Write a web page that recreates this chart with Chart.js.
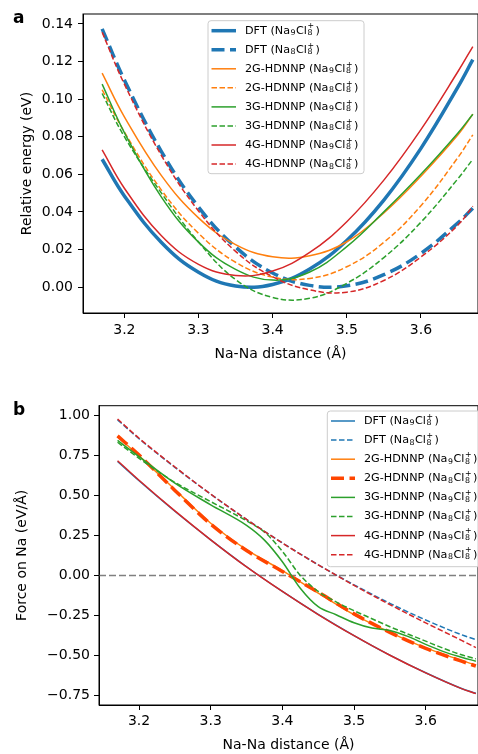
<!DOCTYPE html>
<html>
<head>
<meta charset="utf-8">
<script src="https://cdn.jsdelivr.net/npm/chart.js@4.4.1/dist/chart.umd.min.js"></script>
<style>
  html, body { margin: 0; padding: 0; background: #fff; }
  body { width: 478px; height: 754px; position: relative; overflow: hidden; font-family: 'DejaVu Sans', sans-serif; }
  canvas { position: absolute; left: 0; }
  #chartA { top: 0; }
  #chartB { top: 375px; }
  .panel { position: absolute; font-weight: bold; font-size: 17px; line-height: normal; }
</style>
</head>
<body>
<canvas id="chartA" width="478" height="375"></canvas>
<canvas id="chartB" width="478" height="379"></canvas>
<div class="panel" style="left:13px;top:7px">a</div>
<div class="panel" style="left:13px;top:399px">b</div>
<script>
// Na-Na distances (Å) where the curves were read
const dist = [3.17, 3.20, 3.25, 3.30, 3.35, 3.40, 3.45, 3.50, 3.55, 3.60, 3.65, 3.67];
const distFine = [3.17, 3.20, 3.25, 3.30, 3.35, 3.375, 3.40, 3.425, 3.45, 3.475, 3.50, 3.525, 3.55, 3.575, 3.60, 3.625, 3.65, 3.67];

// Panel a: relative energy (eV)
const eDftNa9 = [0.068, 0.0485, 0.0237, 0.0079, 0.0006, 0.0014, 0.0096, 0.0248, 0.0463, 0.0738, 0.1065, 0.121];
const eDftNa8 = [0.1374, 0.1102, 0.0721, 0.0426, 0.0213, 0.0075, 0.0009, 0.0007, 0.0066, 0.0179, 0.0342, 0.042];
const e2gNa9 = [0.1138, 0.0906, 0.0593, 0.0368, 0.0226, 0.0161, 0.0167, 0.0241, 0.0395, 0.059, 0.081, 0.092];
const e2gNa8 = [0.105, 0.0825, 0.0516, 0.0286, 0.0132, 0.0053, 0.0046, 0.0108, 0.0238, 0.0433, 0.069, 0.081];
const e3gNa9 = [0.108, 0.0822, 0.0479, 0.0239, 0.0094, 0.0037, 0.008, 0.0215, 0.040, 0.060, 0.082, 0.092];
const e3gNa8 = [0.103, 0.080, 0.050, 0.024, 0.004, -0.0055, -0.006, 0.002, 0.0157, 0.0345, 0.0577, 0.068];
const e4gNa9 = [0.073, 0.0526, 0.0273, 0.0121, 0.0062, 0.0085, 0.0184, 0.0348, 0.0569, 0.0838, 0.1147, 0.128];
const e4gNa8 = [0.1356, 0.108, 0.070, 0.0405, 0.019, 0.0055, -0.0015, -0.0027, 0.0035, 0.016, 0.033, 0.043];

// Panel b: force on Na (eV/Å)
const fDftNa9 = [0.71, 0.59, 0.40, 0.222, 0.054, -0.10, -0.243, -0.375, -0.497, -0.607, -0.705, -0.735];
const fDftNa8 = [0.97, 0.852, 0.674, 0.506, 0.349, 0.2025, 0.0665, -0.059, -0.174, -0.278, -0.37, -0.40];
const f2gNa9 = [0.865, 0.745, 0.535, 0.325, 0.16, 0.03, -0.11, -0.245, -0.355, -0.452, -0.53, -0.56];
const f2gNa8 = [0.87, 0.75, 0.53, 0.32, 0.155, 0.025, -0.105, -0.24, -0.355, -0.455, -0.535, -0.565];
const f3gNa9 = [0.842, 0.74, 0.575, 0.44, 0.312, 0.22, 0.085, -0.08, -0.195, -0.245, -0.295, -0.328, -0.343, -0.38, -0.43, -0.475, -0.51, -0.535];
const f3gNa8 = [0.83, 0.73, 0.58, 0.46, 0.34, 0.27, 0.15, 0.0, -0.10, -0.165, -0.22, -0.27, -0.32, -0.365, -0.41, -0.455, -0.495, -0.52];
const f4gNa9 = [0.715, 0.593, 0.402, 0.222, 0.053, -0.10, -0.244, -0.376, -0.498, -0.608, -0.706, -0.737];
const f4gNa8 = [0.975, 0.855, 0.676, 0.507, 0.349, 0.202, 0.066, -0.062, -0.182, -0.296, -0.405, -0.45];

// Labels and ticks
const seriesLabels = [
    'DFT (Na₉Cl₈⁺)', 'DFT (Na₈Cl₈⁺)',
    '2G-HDNNP (Na₉Cl₈⁺)', '2G-HDNNP (Na₈Cl₈⁺)',
    '3G-HDNNP (Na₉Cl₈⁺)', '3G-HDNNP (Na₈Cl₈⁺)',
    '4G-HDNNP (Na₉Cl₈⁺)', '4G-HDNNP (Na₈Cl₈⁺)'
];
const xTicks = [3.2, 3.3, 3.4, 3.5, 3.6];
const yTicksA = [0, 0.02, 0.04, 0.06, 0.08, 0.10, 0.12, 0.14];
const yTicksB = [-0.75, -0.5, -0.25, 0, 0.25, 0.5, 0.75, 1.0];

const BLUE = '#1f77b4', ORANGE = '#ff7f0e', GREEN = '#2ca02c', RED = '#d62728', ORANGERED = '#ff4500';
const FONT = "'DejaVu Sans'";
const THIN_DASH = [5.5, 2.5];
const THICK_DASH = [13, 5.5];
const SUBS = { '₈': '8', '₉': '9' };

Chart.defaults.color = '#000';
Chart.defaults.font.family = FONT;

function line(label, xs, ys, color, width, dash, idx, smooth) {
    const ds = {
        label,
        data: xs.map((x, i) => ({ x, y: ys[i] })),
        borderColor: color,
        borderWidth: width,
        borderDash: dash,
        pointRadius: 0,
        fill: false,
        order: 10 - idx // later series drawn on top, like matplotlib
    };
    if (smooth === 'monotone') ds.cubicInterpolationMode = 'monotone';
    else ds.tension = 0.4;
    return ds;
}

// Draw a label with mathtext-like sub/superscripts (Cl with 8 below and + above)
function drawRich(ctx, text, x, y, size) {
    const small = size * 0.7;
    let cx = x;
    let subStart = null, subW = 0;
    for (const ch of text) {
        if (SUBS[ch]) {
            ctx.font = small + 'px ' + FONT;
            ctx.fillText(SUBS[ch], cx + 0.5, y + size * 0.22);
            subStart = cx;
            subW = ctx.measureText(SUBS[ch]).width + 1;
            cx += subW;
        } else if (ch === '⁺') {
            ctx.font = small + 'px ' + FONT;
            const w = ctx.measureText('+').width + 1;
            const sx = subStart !== null ? subStart : cx;
            ctx.fillText('+', sx + 0.5, y - size * 0.38);
            cx = Math.max(cx, sx + w) + 1;
            subStart = null;
        } else {
            ctx.font = size + 'px ' + FONT;
            ctx.fillText(ch, cx, y);
            cx += ctx.measureText(ch).width;
            subStart = null;
        }
    }
}

// Legend drawn inside the axes, matplotlib style
const legendBox = {
    id: 'legendBox',
    afterDraw(chart, args, opts) {
        const ctx = chart.ctx;
        ctx.save();
        ctx.beginPath();
        ctx.roundRect(opts.x, opts.y, opts.w, opts.h, 3);
        ctx.fillStyle = 'rgba(255,255,255,0.8)';
        ctx.fill();
        ctx.strokeStyle = '#cccccc';
        ctx.lineWidth = 1;
        ctx.stroke();
        chart.data.datasets.forEach((ds, i) => {
            const y = opts.row0 + i * opts.step;
            ctx.beginPath();
            ctx.strokeStyle = ds.borderColor;
            ctx.lineWidth = ds.borderWidth;
            ctx.setLineDash(ds.borderDash || []);
            ctx.moveTo(opts.lineX0, y);
            ctx.lineTo(opts.lineX1, y);
            ctx.stroke();
            ctx.setLineDash([]);
            ctx.fillStyle = '#000';
            ctx.textBaseline = 'middle';
            drawRich(ctx, ds.label, opts.textX, y, 11.2);
        });
        ctx.restore();
    }
};

// Full box round the plot area
const frame = {
    id: 'frame',
    afterDraw(chart) {
        const { ctx, chartArea: a } = chart;
        ctx.save();
        ctx.strokeStyle = '#000';
        ctx.lineWidth = 1;
        ctx.strokeRect(a.left, a.top, a.right - a.left, a.bottom - a.top);
        ctx.restore();
    }
};

// Grey dashed zero line on the force panel
const zeroLine = {
    id: 'zeroLine',
    beforeDatasetsDraw(chart) {
        const { ctx, chartArea: a, scales } = chart;
        const y = scales.y.getPixelForValue(0);
        ctx.save();
        ctx.strokeStyle = '#808080';
        ctx.lineWidth = 1.5;
        ctx.setLineDash([7, 3]);
        ctx.beginPath();
        ctx.moveTo(a.left, y);
        ctx.lineTo(a.right, y);
        ctx.stroke();
        ctx.restore();
    }
};

function axisOptions(min, max, ticks, fmt, title, size, tickPad, titlePad) {
    return {
        type: 'linear',
        min, max,
        afterBuildTicks: s => { s.ticks = ticks.map(v => ({ value: v })); },
        afterFit: s => { if (s.isHorizontal()) s.height = size; else s.width = size; },
        grid: { display: true, drawOnChartArea: false, drawTicks: true, tickLength: 5, tickColor: '#000' },
        border: { display: true, color: '#000', width: 1 },
        ticks: { font: { size: 14 }, padding: tickPad, callback: fmt, autoSkip: false, maxRotation: 0 },
        title: { display: true, text: title, font: { size: 14 }, padding: titlePad }
    };
}

const fmtX = v => v.toFixed(1);
const fmtA = v => v.toFixed(2);
const fmtB = v => (v < 0 ? '\u2212' : '') + Math.abs(v).toFixed(2);

new Chart(document.getElementById('chartA'), {
    type: 'line',
    data: {
        datasets: [
            line(seriesLabels[0], dist, eDftNa9, BLUE, 3.5, [], 0),
            line(seriesLabels[1], dist, eDftNa8, BLUE, 3.5, THICK_DASH, 1),
            line(seriesLabels[2], dist, e2gNa9, ORANGE, 1.5, [], 2),
            line(seriesLabels[3], dist, e2gNa8, ORANGE, 1.5, THIN_DASH, 3),
            line(seriesLabels[4], dist, e3gNa9, GREEN, 1.5, [], 4),
            line(seriesLabels[5], dist, e3gNa8, GREEN, 1.5, THIN_DASH, 5),
            line(seriesLabels[6], dist, e4gNa9, RED, 1.5, [], 6),
            line(seriesLabels[7], dist, e4gNa8, RED, 1.5, THIN_DASH, 7)
        ]
    },
    options: {
        responsive: false,
        animation: false,
        devicePixelRatio: 1,
        layout: { padding: { top: 14, left: 0, right: 0, bottom: 0 } },
        scales: {
            x: axisOptions(3.1442, 3.677, xTicks, fmtX, 'Na-Na distance (Å)', 62, 4, { top: 0, bottom: 12.6 }),
            y: axisOptions(-0.0138, 0.1453, yTicksA, fmtA, 'Relative energy (eV)', 83, 5, { top: 18.6, bottom: 0 })
        },
        plugins: {
            legend: { display: false },
            tooltip: { enabled: false },
            legendBox: { x: 208, y: 20.7, w: 156, h: 153, row0: 30.7, step: 19.05, lineX0: 211.5, lineX1: 236, textX: 245 }
        }
    },
    plugins: [frame, legendBox]
});

new Chart(document.getElementById('chartB'), {
    type: 'line',
    data: {
        datasets: [
            line(seriesLabels[0], dist, fDftNa9, BLUE, 1.5, [], 0, 'monotone'),
            line(seriesLabels[1], dist, fDftNa8, BLUE, 1.5, THIN_DASH, 1, 'monotone'),
            line(seriesLabels[2], dist, f2gNa9, ORANGE, 1.5, [], 2, 'monotone'),
            line(seriesLabels[3], dist, f2gNa8, ORANGERED, 3.5, THICK_DASH, 3, 'monotone'),
            line(seriesLabels[4], distFine, f3gNa9, GREEN, 1.5, [], 4, 'monotone'),
            line(seriesLabels[5], distFine, f3gNa8, GREEN, 1.5, THIN_DASH, 5, 'monotone'),
            line(seriesLabels[6], dist, f4gNa9, RED, 1.5, [], 6, 'monotone'),
            line(seriesLabels[7], dist, f4gNa8, RED, 1.5, THIN_DASH, 7, 'monotone')
        ]
    },
    options: {
        responsive: false,
        animation: false,
        devicePixelRatio: 1,
        layout: { padding: { top: 30.7, left: 0, right: 0, bottom: 0 } },
        scales: {
            x: axisOptions(3.1441, 3.673, xTicks, fmtX, 'Na-Na distance (Å)', 49, 3, { top: 0, bottom: 0.6 }),
            y: axisOptions(-0.808, 1.058, yTicksB, fmtB, 'Force on Na (eV/Å)', 99, 4, { top: 13.6, bottom: 0 })
        },
        plugins: {
            legend: { display: false },
            tooltip: { enabled: false },
            legendBox: { x: 327.3, y: 36, w: 170, h: 155.7, row0: 46, step: 19.1, lineX0: 331, lineX1: 355, textX: 364 }
        }
    },
    plugins: [frame, zeroLine, legendBox]
});
</script>
</body>
</html>
